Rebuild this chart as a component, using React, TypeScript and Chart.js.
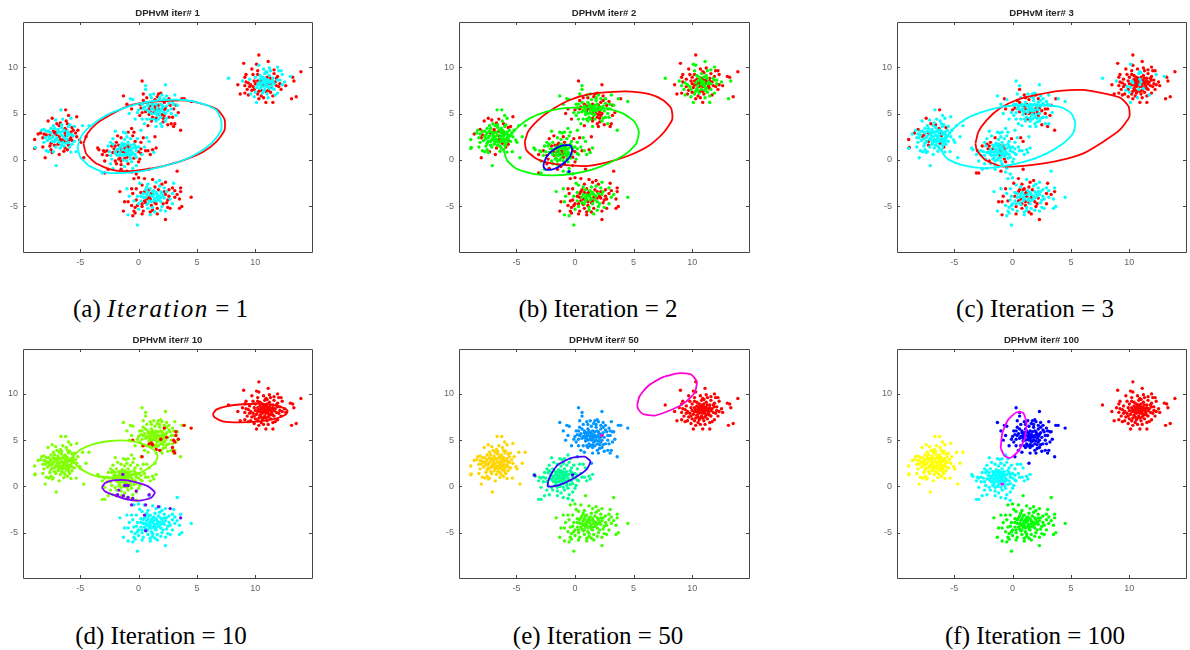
import React, { useEffect, useRef } from "react";
import { Chart, registerables } from "chart.js";

Chart.register(...registerables);

const AXIS_MIN = -9.9;
const AXIS_MAX = 14.85;
const TICK_VALUES = [-5, 0, 5, 10];

const clusterLeft = [[-8.9,2.2],[-8.85,1.35],[-8.9,1.25],[-8,.25],[-7.05,-.6],[-4.7,.25],[-6.65,5.4],[-6.25,5.4],[-5.3,4.65],[-4.25,3.7],[-4.8,3.7],[-4.5,2.5],[-4.95,1.9],[-5.05,2.15],[-5.8,.85],[-5.35,.9],[-6.8,.6],[-7.4,4.5],[-7.75,4.2],[-6,4.8],[-5.8,4.5],[-7.1,4.3],[-8.3,3.2],[-8.4,2.9],[-8.6,2.8],[-8.1,3.3],[-8.2,2.4],[-8.1,1.9],[-8.2,1.4],[-7.9,1],[-7.7,.9],[-7.5,1.1],[-7.3,.9],[-7.2,1.6],[-7.6,1.5],[-7.8,2.1],[-7.9,2.7],[-7.7,3.1],[-7.5,3.4],[-7.3,3.7],[-7,3.9],[-6.7,4],[-6.5,4.4],[-6.2,4.2],[-5.9,3.8],[-5.5,3.6],[-5.6,3.2],[-5.4,2.9],[-5.3,2.5],[-5.5,2],[-5.7,1.7],[-5.9,1.4],[-6.1,1.1],[-6.4,.95],[-6.7,1.3],[-6.9,1.7],[-7.1,2.2],[-7.3,2.6],[-7.1,3],[-6.9,3.3],[-6.6,3.5],[-6.3,3.4],[-6.1,3.1],[-5.9,2.8],[-5.8,2.4],[-6,2.1],[-6.2,1.8],[-6.4,1.5],[-6.6,2],[-6.4,2.4],[-6.6,2.7],[-6.8,2.5],[-6.3,2.9],[-6.1,2.6],[-6.5,3.1],[-7,2.7],[-6.9,2.1],[-7.4,2],[-7.5,2.9],[-6.2,2.2],[-5.7,3.5],[-5.6,2.6],[-6,3.6],[-6.8,3.7],[-7.2,3.4],[-8,2.4],[-7.6,2.3],[-6.6,1.6],[-6,1.6],[-5.2,3.2]];
const leftCore = [[-7.4,2.4],[-7.2,2.9],[-7,2.4],[-6.9,2.9],[-6.7,3],[-6.7,2.2],[-6.5,2.6],[-6.5,1.9],[-6.3,2.6],[-6.3,2],[-6.1,2.9],[-6.1,2.3],[-6,2.8],[-5.9,2.2],[-5.8,3],[-5.7,2.7],[-5.7,2.1],[-6.8,1.9],[-7.2,2],[-7.3,3.1],[-6.9,3.1],[-6.4,3.2],[-6.2,3.2],[-7.6,2.7],[-7.7,2.5],[-6,1.9],[-6.5,2.2],[-7.1,1.4],[-6.3,1.3],[-7.5,1.8],[-6.6,3.8],[-6.1,3.9],[-7.9,3.1],[-8.1,2.8],[-7.4,.8]];
const clusterMiddle = [[-3.5,1.3],[-3.4,1.1],[-3.1,-1.4],[-2.9,-1.4],[-2,3.1],[-1.3,3],[-.6,3.4],[-.9,3],[.7,2.4],[1.2,1.1],[1.5,1.3],[1.3,.8],[1,.6],[.6,1],[.3,.6],[.1,.1],[0,-.2],[-.2,-.6],[-1,-1.2],[-.6,-1.3],[-.2,-1.5],[-1.5,-1],[-2.2,-.9],[-2.6,-1],[-2.4,-.4],[-3,1],[-2.9,.9],[-2.7,1],[-2.5,.9],[-2.7,.5],[-2.4,.5],[-2.3,.1],[-2,-.1],[-1.9,-.4],[-1.5,-.5],[-1.2,-.7],[-.9,-.4],[-.6,-.2],[-.4,.2],[-.3,.6],[-.2,1],[0,1.4],[.2,1.9],[.4,2.4],[-.1,2.3],[-.3,2],[-.5,2.6],[-.7,2.3],[-1,2.5],[-1.2,2.2],[-1.5,2.4],[-1.8,2.6],[-2.2,2.3],[-2.4,1.9],[-2.3,1.5],[-2.1,1.2],[-2,.8],[-1.8,.5],[-1.6,.2],[-1.3,0],[-1,.3],[-.8,.6],[-.6,.9],[-.9,1.3],[-1.1,1.6],[-1.4,1.8],[-1.7,1.6],[-1.5,1.2],[-1.3,.8],[-1.6,.8],[-1.1,1],[-1.2,1.3],[-.9,1],[-1.4,.5],[-1,.7],[-.7,1.6],[-.5,1.3],[-1.9,1.9],[-.9,1.9],[.5,1.4],[.8,1],[-.2,.3],[-1.9,1.1],[-1.7,.1],[-2.6,1.5],[-.5,-.9],[0,.9],[-.4,1.7],[-1.3,1.5],[-1.6,1.4]];
const midCore = [[-1.7,1.2],[-1.5,.9],[-1.4,1.1],[-1.3,.6],[-1.2,.9],[-1.1,.5],[-1,1.2],[-.9,.8],[-.8,1.1],[-.7,.4],[-.7,1.2],[-1.8,.9],[-1.6,.5],[-1.9,.6],[-1.2,1.7],[-1,1.5],[-.8,1.5],[-1.5,1.6],[-.6,.6],[-.5,.7],[-1.2,.2],[-1,-.1],[-.7,.1],[-1.5,-.1],[-2.2,.8],[-2.2,1.7],[-2,1.5],[-.2,1.3],[-.3,1.5],[.2,1.2],[.2,.7],[.9,2],[-2.9,-.1],[-3.1,.6],[-1.1,2.9],[-.4,3]];
const clusterUpper = [[.3,8.5],[.6,8],[.6,7.6],[2.3,8.1],[-1.3,6.9],[-.7,6.6],[-.5,6.5],[-1,6],[-.6,5.5],[-.8,5],[4.5,6.3],[3.9,6.6],[3.7,6.6],[3.1,7],[3.2,5.9],[3.3,5.9],[3.6,3.2],[3,3.6],[3.1,3.9],[1.4,2.5],[.2,3.2],[.5,3.9],[.8,3.7],[1.5,3.6],[2,3.6],[2.5,3.8],[2.8,3.9],[1.1,4.2],[.3,4.4],[.1,4.8],[0,5.4],[-.1,5.1],[.1,6],[.4,6.4],[.7,6.7],[1,7],[1.3,7.1],[1.7,7.1],[2,7],[2.4,6.9],[2.6,6.6],[2.9,6.3],[2.7,5.9],[3,5.5],[2.8,5],[3.4,5.1],[2.6,4.6],[2.3,4.2],[1.9,3.9],[1.5,4.2],[1.2,4.6],[.9,4.9],[.6,5.2],[.5,5.7],[.8,6],[1.1,6.2],[1.4,6.5],[1.8,6.4],[2.2,6.2],[2.4,5.8],[2.5,5.3],[2.2,4.8],[1.9,4.6],[1.6,4.8],[1.3,5.1],[1.1,5.5],[1.4,5.8],[1.7,5.9],[2,5.6],[1.8,5.3],[1.5,5.4],[2.1,5.2],[1.2,5.8],[1.9,6],[1.6,5.6],[.7,4.4],[.3,5.1],[3.2,4.8],[2.2,6.6],[.9,5.5],[1.7,4.4],[2.4,4.5],[1.6,6.8],[1.1,6.7],[.3,6],[2.6,6.1],[2.1,4.1],[1.4,5],[.8,5.8]];
const upCore = [[1,5.2],[1.1,5],[1.3,5.4],[1.4,5.6],[1.5,5.1],[1.6,5.3],[1.7,5.5],[1.8,5],[1.9,5.4],[2,5.9],[2.1,5.7],[2.2,5.4],[2.3,5.6],[2.3,5],[1.5,6],[1.2,6],[1,5.8],[.9,5.2],[.7,5.4],[1.7,4.9],[2,4.9],[1.3,4.4],[1,4.4],[1.5,4.5],[2.1,4.5],[.4,5.5],[.6,6.2],[1.8,6.7],[2.4,6.4],[2.8,5.5],[3,6],[2.9,4.6],[.2,5.6],[-.3,4.4],[1.9,7.2],[.4,7.1]];
const clusterLower = [[-.1,-7],[2.3,-6.4],[3.3,-1.2],[.9,-1],[0,-1.9],[.5,-2],[-.4,-2],[-1.6,-3.4],[-1.3,-5.5],[-1.2,-4.5],[-1,-3.1],[3.6,-3],[3.6,-3.4],[4.5,-4],[3.7,-5],[3.5,-5.2],[-.5,-6],[-.9,-5.9],[-.3,-5.7],[1,-5.9],[1.6,-5.8],[2.3,-5.5],[2.5,-5.1],[2.7,-5.2],[3,-2.5],[2.3,-2.4],[1.5,-2.4],[1.2,-2.1],[.8,-2.6],[.3,-2.7],[-.2,-3.1],[-.5,-3.6],[-.8,-3.9],[-.9,-4.5],[-.6,-4.9],[-.3,-5.1],[0,-5.3],[.4,-5.5],[.8,-5.2],[1.2,-5.4],[1.6,-5.2],[2,-5],[2.4,-4.6],[2.7,-4.2],[3.1,-4],[3.3,-3.7],[2.9,-3.6],[2.6,-3.2],[2.2,-3],[1.8,-2.8],[1.4,-2.9],[1,-3.1],[.6,-3.2],[.2,-3.5],[-.1,-3.9],[-.2,-4.3],[0,-4.7],[.3,-5],[.7,-4.8],[1.1,-4.9],[1.5,-4.7],[1.9,-4.5],[2.2,-4.1],[2.3,-3.7],[1.9,-3.4],[1.5,-3.5],[1.1,-3.6],[.7,-3.7],[.4,-4],[.5,-4.4],[.9,-4.4],[1.3,-4.3],[1.6,-4],[1.2,-3.9],[.9,-4],[1.5,-4.4],[1.8,-3.9],[.2,-4.4],[2.6,-3.9],[2.9,-4.7],[.7,-2.9],[-.4,-4.4],[1,-5.6],[1.9,-5.4],[.1,-2.5],[1.8,-2.2],[1.3,-3.3],[.6,-4.6]];
const lowCore = [[.2,-3.9],[.4,-3.6],[.6,-4],[.7,-4.2],[.8,-3.5],[1,-3.8],[1,-4.2],[1.1,-4.5],[1.2,-3.4],[1.3,-3.7],[1.4,-4.1],[1.4,-4.6],[1.6,-3.7],[1.7,-4.3],[1.7,-3.2],[1.9,-4.1],[2,-3.6],[2.1,-3.9],[.8,-4.7],[.5,-3.4],[.3,-4.7],[1.2,-5.1],[.9,-3.2],[-.1,-4.9],[2.2,-3.4],[2.4,-3.4],[2.5,-4.3],[2.1,-4.7],[2,-2.6],[-.6,-3.1],[-.4,-5.5],[.3,-5.8],[3.1,-3.3],[3.5,-4.2],[2.9,-3],[1.4,-5.6]];
const clusterRight = [[7.7,8.8],[10.3,11.3],[9,10.4],[11.1,10.6],[13.9,9.5],[13.1,6.6],[13.5,6.8],[13,9],[13.3,8.5],[13.2,8.9],[12.6,8],[10.1,6.2],[10.9,6.2],[11.5,6.2],[9.1,7.2],[9.4,7],[8.7,7.1],[8.5,8.1],[8.9,8.5],[9.2,9.2],[9.7,9.8],[10.3,10.2],[10.1,10.3],[11.9,10],[12.2,9.6],[12,9.6],[9.1,8.9],[9.1,8],[9.5,8.7],[9.8,9.2],[10.2,9.6],[10.7,9.8],[11.3,9.6],[11.6,9.3],[11.9,9],[12.1,8.6],[12.3,8.1],[12.2,7.6],[11.9,7.2],[11.5,6.9],[11.1,6.7],[10.7,6.7],[10.3,6.6],[9.9,6.8],[9.6,7.1],[9.7,7.5],[9.3,7.6],[9.6,8.1],[9.9,8.5],[10,8.9],[10.4,9.1],[10.8,9.3],[11.2,9.1],[11.5,8.8],[11.7,8.4],[11.8,8],[11.6,7.6],[11.3,7.3],[11,7.1],[10.6,7.2],[10.3,7.4],[10.1,7.8],[10.3,8.1],[10.5,8.5],[10.8,8.8],[11.1,8.6],[11.3,8.2],[11.1,7.9],[10.8,7.6],[10.6,7.9],[10.8,8.2],[11,8.4],[10.5,8.3],[11.3,8.8],[10.9,8.1],[11.4,8],[10.2,8.5],[10.7,8.7],[11.5,7.7],[10.4,7.7],[11.9,8.6],[9.4,8.3],[12,7.9],[11.2,9.9],[12.5,8.4],[11,8],[10.9,7.4],[11.6,8.2],[10,7.3],[9.8,7.9]];
const rightCore = [[10.5,8],[10.6,8.4],[10.7,8.1],[10.8,8.5],[10.9,8.7],[10.9,7.9],[11,8.2],[11.1,8.2],[11.2,8.5],[11.2,7.7],[11.4,8.4],[11.4,7.8],[10.4,8.7],[10.6,8.9],[11,8.9],[11.2,8.3],[10.3,8.3],[10.2,8.1],[10.7,7.4],[11.1,7.5],[11,9.4],[11.5,8.5],[11.8,8.8],[10.9,9.5],[10.5,7.5],[10,8.2],[10.2,9.2],[9.9,7.6],[9.5,7.9],[12.1,8.2],[11.7,7],[10.5,6.9],[10.2,7.1],[9.2,8.4],[12.3,9.2],[11.6,9.7]];
const allClusters = [clusterLeft.concat(leftCore), clusterMiddle.concat(midCore), clusterUpper.concat(upCore), clusterLower.concat(lowCore), clusterRight.concat(rightCore)];

// Per cluster, per point: r = red, o = the other colour of that panel.
const iter1Labels = [
  "rorrororroorrroorrrrooorrororoororrorooorroroorrrooorroroorooroorrooroorrooroooorooroooorroroooroorrooorrorooroorroo",
  "rroroorrorrorrorrorrrrororrroroorrrororooorrorrooorroorroororooroorrroorooooorooroorooroooorooroooroorooorroooroo",
  "roooroorrorrrororrrrooroorrroroorrrooroororrorrooorrrooororooroororroorooooorooroorooorooroorooroooorroooroorroor",
  "orrrrrrrrrorrrrrrorororrorororrrorrrororrororrorooroororororroorooroorooooroooroooroooorooorooroooorooroooorrorrr",
  "orrrrrrorrrorrrrrrorrorooorrorroorroorororroorrrrooooorrorooroorooroooooorooroooorrooorooroorooorroooroorooooroor",
];
const iter2Labels = [
  "oooroooorooooooorrrooroorrooooooroooroooorrooroooorrooroooorooooooroooooooroooooroooorooooorooooroooroooooroooroo",
  "oorooooooroooroorrooorrorooroorrooorroooroorroooroorroooorooroooorroooroooroooroorooooroooororrooorooroooorroooooo",
  "rooroooorrorooroorrroororrooooroorroorororrooroorrooorroooroorrooroorooroooooroooorroorooroorroororooorroroooroorr",
  "orrrrrrorrorrorroorrororrorrrorroorrorrororroorrooorroorrorroororororrooroorooroorrooroorrorroorrooroorrororroorror",
  "orrororrorrorororrorrooorrrorrororrorrooorrorroorrooorrrooroorrorrooorooroorrorooorroororoorrorrorroorroororrorror",
];
const iter3Labels = [
  "rrooooorooooooooorooooororooooooorooooooroooooooooorooooooooorooooroooooorooooooroooooooooorooooooooroooooooroooo",
  "oorroooorooooooooorooooooroooooorooooroooooorooooorooooroooooooorooooorooooooroooooorooooorooooroooorooooorooooor",
  "ooroorooroooroorrrooooooorooooroororooroooorrooooooorooorooorrooorooroorooooorrooooroooroorooroorooooroorrooooroo",
  "orororoooroorooooroorooorororooorrooooroorooorrooorrroooorororrooorooroorrooooororoorrooroorooorrooroorooorroorooo",
  "orrrrrrorrrorrrrrrorrrorrrrrrrrrrrrrrrrrrorrrorrrrrorrrrrrrrrorrrrrrorrorrororrrrrrrrrrroorrrrorrrrorrrrrrorrrorr",
];

const redEllipse1 = [[-4.72,1.77],[-4.38,2.85],[-3.58,3.94],[-2.44,4.84],[-1.02,5.74],[.4,6.17],[2.1,6.35],[4.09,6.39],[5.8,5.92],[6.79,5.38],[7.36,4.37],[7.36,3.21],[6.65,1.95],[5.51,.87],[3.81,-.04],[2.1,-.65],[.4,-1.05],[-1.02,-1.23],[-2.44,-1.01],[-3.72,-.29],[-4.49,.69],[-4.72,1.77]];
const cyanEllipse1 = [[-5.23,1.41],[-4.86,2.67],[-4.01,3.75],[-2.73,4.84],[-1.31,5.56],[.4,6.17],[2.1,6.46],[3.95,6.46],[5.65,5.99],[6.65,5.38],[7.07,4.3],[7.07,3.21],[6.36,1.95],[5.23,.87],[3.66,-.11],[1.82,-.76],[.11,-1.23],[-1.59,-1.41],[-3.01,-1.3],[-4.29,-.58],[-5,.32],[-5.23,1.41]];
const redEllipse2 = [[-4.29,1.95],[-4.01,3.04],[-3.15,4.3],[-2.02,5.38],[-.45,6.46],[1.25,7.08],[3.24,7.33],[4.8,7.36],[6.36,7.08],[7.5,6.46],[8.21,5.56],[8.3,4.37],[7.5,2.85],[6.36,1.59],[4.66,.51],[2.67,-.29],[.97,-.65],[-.45,-.58],[-1.88,-.4],[-3.3,.14],[-4.15,1.05],[-4.29,1.95]];
const greenEllipse2 = [[-6.08,1.05],[-5.57,2.49],[-4.86,3.57],[-3.86,4.48],[-2.44,5.2],[-1.02,5.56],[.97,5.67],[2.67,5.56],[4.09,5.02],[5.08,4.12],[5.45,3.04],[5.23,1.77],[4.38,.69],[3.1,-.22],[1.53,-1.01],[-.17,-1.48],[-1.88,-1.66],[-3.58,-1.48],[-5,-.94],[-5.8,-.04],[-6.08,1.05]];
const blueEllipse2 = [[-2.67,-.4],[-2.44,.32],[-1.88,1.05],[-1.16,1.52],[-.45,1.59],[-.23,1.16],[-.45,.32],[-1.02,-.4],[-1.73,-.94],[-2.44,-1.05],[-2.67,-.76],[-2.67,-.4]];
const redEllipse3 = [[-3.18,1.77],[-2.93,3.03],[-2.22,4.3],[-1.08,5.56],[.34,6.46],[2.05,7],[4.03,7.44],[6.02,7.54],[8.01,7.11],[9.29,6.64],[9.94,5.74],[10,4.66],[9.15,3.21],[7.73,1.95],[6.02,.69],[4.03,-.04],[2.05,-.47],[.34,-.69],[-1.08,-.65],[-2.36,.04],[-3.07,1.05],[-3.18,1.77]];
const cyanEllipse3 = [[-6.05,1.05],[-5.76,2.13],[-5.06,3.39],[-3.92,4.48],[-2.5,5.2],[-.8,5.74],[.91,5.92],[2.61,5.92],[4.18,5.67],[5.03,5.02],[5.37,3.94],[5.17,2.85],[4.32,1.77],[2.9,.69],[1.19,-.11],[-.8,-.65],[-2.5,-.87],[-4.2,-.58],[-5.48,.04],[-5.97,.69],[-6.05,1.05]];
const limeEllipse10 = [[-5.63,3.25],[-5,3.97],[-3.86,4.58],[-2.44,4.91],[-1.02,4.95],[.4,4.58],[1.39,3.86],[1.62,3.14],[1.25,2.35],[.26,1.55],[-1.02,1.08],[-2.44,.97],[-3.86,1.19],[-5,1.91],[-5.57,2.71],[-5.63,3.25]];
const redEllipse10 = [[6.36,7.83],[6.65,8.3],[7.5,8.66],[8.92,8.88],[10.63,8.92],[12.05,8.66],[12.76,8.2],[12.61,7.76],[11.76,7.33],[10.34,7.04],[8.64,6.93],[7.22,7.04],[6.5,7.47],[6.36,7.83]];
const purpleEllipse10 = [[-3.15,-.11],[-2.87,.36],[-2.16,.65],[-1.16,.69],[-.17,.43],[.82,0],[1.39,-.65],[1.1,-1.19],[.26,-1.52],[-.88,-1.44],[-2.02,-.97],[-2.87,-.54],[-3.15,-.11]];
const magentaEllipse50 = [[5.31,8.84],[5.51,9.75],[6.22,10.83],[7.5,11.81],[8.92,12.24],[9.91,12.09],[10.4,11.3],[10.2,10.11],[9.35,9.03],[8.07,8.2],[6.79,7.65],[5.8,7.83],[5.37,8.41],[5.31,8.84]];
const indigoEllipse50 = [[-2.3,.54],[-2.02,1.34],[-1.45,2.35],[-.31,3.07],[.82,3.21],[1.31,2.71],[.97,1.81],[-.17,.83],[-1.45,.11],[-2.3,0],[-2.3,.54]];
const magentaEllipse100 = [[-1.02,4.15],[-.88,5.78],[-.37,7.22],[.34,8.01],[.91,7.94],[1.19,6.86],[1.05,5.23],[.48,3.79],[-.23,3.07],[-.71,3.32],[-1.02,4.15]];

const bluePoints2 = [[-.5,-1.25]];
const redPoints10 = [[4.5,6.3],[3.9,6.6],[3.2,5.5],[3,5],[3.4,5.1],[3.1,4.8],[2.9,4.2],[3,3.8],[3.1,3.6],[1.8,3.9],[1.5,4],[1.2,4.5],[1.1,4.7],[.9,4.6],[.4,4.4],[-.5,5],[.3,3.2],[1.9,5.1],[2.4,5.3],[3.2,5.9],[2.2,6.3]];
const purplePoints10 = [[-1.35,1.3],[-1.1,.1],[-1.2,.1],[-.9,.1],[-1.7,-.4],[-1.8,-.9],[-1.9,-1],[-1.3,-1],[-.9,-1.2],[-.5,-1.3],[-.2,-.5],[.9,-.9],[-.6,-2],[.6,-2],[.5,-3.1],[.6,-4.8],[1.7,-2.2],[2.7,-2.4],[3.6,-3.4]];
const indigoPoints50 = [[-3.45,1.2],[-.2,1.25]];
const magentaPoints50 = [[2.3,5.5]];
const magentaPoints100 = [[-.9,.25]];

const ITER10_COLORS = ["#80ff00", "#80ff00", "#80ff00", "#00ffff", "#ff0000"];
const ITER50_COLORS = ["#ffd500", "#00ff95", "#0095ff", "#40ff00", "#ff0000"];
const ITER100_COLORS = ["#ffff00", "#00ffff", "#0000ff", "#00ff00", "#ff0000"];

const toXY = (list: number[][]) => list.map(([x, y]) => ({ x, y }));

const pts = (list: number[][], color: string) => ({
  data: toXY(list), backgroundColor: color, borderColor: color, pointRadius: 1.7, pointBorderWidth: 0, showLine: false,
});
const curve = (list: number[][], color: string) => ({
  data: toXY(list), borderColor: color, backgroundColor: color, pointRadius: 0, showLine: true, borderWidth: 1.8, tension: 0.2, fill: false,
});
const mixed = (labels: string[], color: string) => {
  const red: number[][] = [];
  const other: number[][] = [];
  allClusters.forEach((c, ci) => c.forEach((p, i) => {
    (labels[ci][i % labels[ci].length] === "r" ? red : other).push(p);
  }));
  return [pts(red, "#ff0000"), pts(other, color)];
};
const plain = (colors: string[]) => allClusters.map((c, i) => pts(c, colors[i]));

const PANELS = [
  { title: "DPHvM iter# 1", left: 23, right: 313, top: 22, bottom: 252,
    layers: [...mixed(iter1Labels, "#00ffff"), curve(redEllipse1, "#ff0000"), curve(cyanEllipse1, "#00ffff")] },
  { title: "DPHvM iter# 2", left: 459, right: 750, top: 22, bottom: 252,
    layers: [...mixed(iter2Labels, "#00ff00"), pts(bluePoints2, "#0000ff"), curve(redEllipse2, "#ff0000"), curve(greenEllipse2, "#00ff00"), curve(blueEllipse2, "#0000ff")] },
  { title: "DPHvM iter# 3", left: 897, right: 1187, top: 22, bottom: 252,
    layers: [...mixed(iter3Labels, "#00ffff"), curve(redEllipse3, "#ff0000"), curve(cyanEllipse3, "#00ffff")] },
  { title: "DPHvM iter# 10", left: 23, right: 313, top: 349, bottom: 578,
    layers: [...plain(ITER10_COLORS), pts(redPoints10, "#ff0000"), pts(purplePoints10, "#8000ff"), curve(limeEllipse10, "#80ff00"), curve(redEllipse10, "#ff0000"), curve(purpleEllipse10, "#8000ff")] },
  { title: "DPHvM iter# 50", left: 459, right: 750, top: 349, bottom: 578,
    layers: [...plain(ITER50_COLORS), pts(indigoPoints50, "#4000ff"), pts(magentaPoints50, "#ff00d5"), curve(magentaEllipse50, "#ff00d5"), curve(indigoEllipse50, "#4000ff")] },
  { title: "DPHvM iter# 100", left: 897, right: 1187, top: 349, bottom: 578,
    layers: [...plain(ITER100_COLORS), pts(magentaPoints100, "#ff00ff"), curve(magentaEllipse100, "#ff00ff")] },
];

const CAPTIONS = [
  { label: <>(a) <i style={{ letterSpacing: "1.6px" }}>Iteration</i> = 1</>, cx: 160.5, top: 295 },
  { label: <>(b) Iteration = 2</>, cx: 598, top: 295 },
  { label: <>(c) Iteration = 3</>, cx: 1035, top: 295 },
  { label: <>(d) Iteration = 10</>, cx: 161, top: 622 },
  { label: <>(e) Iteration = 50</>, cx: 598, top: 622 },
  { label: <>(f) Iteration = 100</>, cx: 1035, top: 622 },
];

const LEFT_GUTTER = 24;
const RIGHT_GUTTER = 3;
const BOTTOM_GUTTER = 26;
const AXIS_COLOR = "#454545";

const boxTicks = {
  id: "boxTicks",
  afterDatasetsDraw(chart: any) {
    const { ctx, chartArea: a, scales } = chart;
    ctx.save();
    ctx.strokeStyle = AXIS_COLOR;
    ctx.lineWidth = 1;
    ctx.beginPath();
    ctx.rect(a.left + 0.5, a.top + 0.5, a.right - a.left, a.bottom - a.top);
    TICK_VALUES.forEach((v) => {
      const px = Math.round(scales.x.getPixelForValue(v)) + 0.5;
      const py = Math.round(scales.y.getPixelForValue(v)) + 0.5;
      ctx.moveTo(px, a.bottom); ctx.lineTo(px, a.bottom - 3);
      ctx.moveTo(px, a.top); ctx.lineTo(px, a.top + 3);
      ctx.moveTo(a.left, py); ctx.lineTo(a.left + 3, py);
      ctx.moveTo(a.right, py); ctx.lineTo(a.right - 3, py);
    });
    ctx.stroke();
    ctx.restore();
  },
};

function Panel({ panel }: { panel: (typeof PANELS)[number] }) {
  const ref = useRef<HTMLCanvasElement>(null);
  useEffect(() => {
    const n = panel.layers.length;
    const axis = (fit: (s: any) => void) => ({
      type: "linear" as const,
      min: AXIS_MIN,
      max: AXIS_MAX,
      grid: { display: false, drawTicks: false },
      border: { display: false },
      afterBuildTicks: (s: any) => { s.ticks = TICK_VALUES.map((value) => ({ value })); },
      afterFit: fit,
      ticks: { color: "#666666", font: { family: "'Liberation Sans'", size: 9 }, padding: 5, maxRotation: 0, autoSkip: false },
    });
    const chart = new Chart(ref.current!, {
      type: "scatter",
      data: { datasets: panel.layers.map((l: any, i: number) => ({ ...l, order: n - i })) },
      plugins: [boxTicks],
      options: {
        animation: false,
        responsive: false,
        layout: { padding: { right: RIGHT_GUTTER, left: 0, top: 0, bottom: 0 } },
        events: [],
        scales: {
          x: axis((s: any) => { s.height = BOTTOM_GUTTER; }),
          y: axis((s: any) => { s.width = LEFT_GUTTER; }),
        },
        plugins: {
          legend: { display: false },
          tooltip: { enabled: false },
          title: {
            display: true,
            text: panel.title,
            fullSize: false,
            color: "#262626",
            font: { family: "'Liberation Sans'", size: 9.6, weight: "bold" },
            padding: { top: 7.5, bottom: 3 },
          },
        },
      },
    } as any);
    return () => chart.destroy();
  }, [panel]);
  return (
    <canvas
      ref={ref}
      width={panel.right - panel.left + LEFT_GUTTER + RIGHT_GUTTER}
      height={panel.bottom - panel.top + 22 + BOTTOM_GUTTER}
      style={{ position: "absolute", left: panel.left - LEFT_GUTTER, top: panel.top - 22, display: "block" }}
    />
  );
}

export default function App() {
  return (
    <div style={{ position: "absolute", left: 0, top: 0, width: 1190, height: 650, overflow: "hidden", background: "#fff", filter: "blur(0.45px)" }}>
      {PANELS.map((p) => <Panel key={p.title} panel={p} />)}
      {CAPTIONS.map((c, i) => (
        <div key={i} style={{ position: "absolute", left: c.cx - 150, width: 300, top: c.top, textAlign: "center", fontFamily: "'Liberation Serif'", fontSize: 25, lineHeight: "28px", color: "#000" }}>
          {c.label}
        </div>
      ))}
    </div>
  );
}
